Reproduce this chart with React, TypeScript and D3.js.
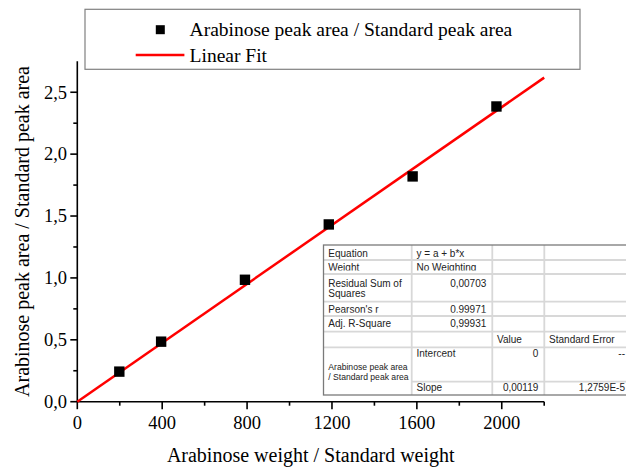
import React from "react";
import * as d3 from "d3";

const xValues = [198, 395, 790, 1185, 1580, 1975];
const yValues = [0.243, 0.485, 0.985, 1.432, 1.82, 2.385];
const fitIntercept = 0;
const fitSlope = 0.00119;
const fitRange = [0, 2200];
const xMajorTicks = [0, 400, 800, 1200, 1600, 2000];
const xMinorTicks = [200, 600, 1000, 1400, 1800, 2200];
const yMajorTicks = [0, 0.5, 1.0, 1.5, 2.0, 2.5];
const yMinorTicks = [0.25, 0.75, 1.25, 1.75, 2.25];
const seriesName = "Arabinose peak area / Standard peak area";
const fitName = "Linear Fit";
const xTitle = "Arabinose weight / Standard weight";
const yTitle = "Arabinose peak area / Standard peak area";

// table content
const tableRows = [
  ["Equation", "y = a + b*x", "", ""],
  ["Weight", "No Weighting", "", ""],
  ["Residual Sum of\nSquares", "0,00703", "", ""],
  ["Pearson's r", "0,99971", "", ""],
  ["Adj. R-Square", "0,99931", "", ""],
  ["", "", "Value", "Standard Error"],
  ["", "Intercept", "0", "--"],
  ["", "Slope", "0,00119", "1,2759E-5"],
];
const tableGroupLabel = ["Arabinose peak area", "/ Standard peak area"];

const serif = "'Liberation Serif', 'Times New Roman', serif";
const sans = "'Liberation Sans', Arial, sans-serif";

export default function App() {
  const x = d3.scaleLinear().domain([0, 2200]).range([77.3, 544.2]);
  const y = d3.scaleLinear().domain([0, 2.75]).range([401.7, 61.3]);
  const fmt = (v: number) => d3.format(".1f")(v).replace(".", ",");

  const line = d3
    .line<number>()
    .x((d) => x(d))
    .y((d) => y(fitIntercept + fitSlope * d));

  // table geometry
  const tX = [323.5, 411.7, 492.3, 544.3, 631];
  const tY = [245, 260, 274, 301.7, 316, 331.7, 347.3, 381.7, 395];
  const baseOff = [12.2, 10.8, 12.5, 11.5, 11, 11.2, 9.9, 8.8];
  const shortRow = [false, true, false, true, false, false, true, false];
  const rightAlign = (r: number, c: number) =>
    (c === 1 && (r === 2 || r === 3 || r === 4)) || (r >= 6 && c >= 2);

  return (
    <div>
      <style>{`body{margin:0}`}</style>
      <svg width={626} height={470} style={{ display: "block", background: "#fff" }}>
        <defs>
          {tableRows.map((_, r) => {
            const h = shortRow[r] ? baseOff[r] - 0.4 : tY[r + 1] - tY[r] - 1;
            return (
              <clipPath id={`row${r}`} key={r}>
                <rect x={tX[0]} y={tY[r] + 0.8} width={tX[4] - tX[0]} height={h - 0.8} />
              </clipPath>
            );
          })}
        </defs>

        {/* axes */}
        <line x1={x(0)} x2={x(2200)} y1={y(0)} y2={y(0)} stroke="#000" strokeWidth={1.6} />
        <line x1={x(0)} x2={x(0)} y1={y(0)} y2={y(2.75)} stroke="#000" strokeWidth={1.6} />
        {xMajorTicks.map((t) => (
          <g key={"xm" + t}>
            <line x1={x(t)} x2={x(t)} y1={y(0)} y2={y(0) + 7.5} stroke="#000" strokeWidth={1.6} />
            <text x={x(t)} y={429.3} textAnchor="middle" fontFamily={serif} fontSize={18.5} fill="#000">
              {t}
            </text>
          </g>
        ))}
        {xMinorTicks.map((t) => (
          <line key={"xn" + t} x1={x(t)} x2={x(t)} y1={y(0)} y2={y(0) + 4} stroke="#000" strokeWidth={1.6} />
        ))}
        {yMajorTicks.map((t) => (
          <g key={"ym" + t}>
            <line x1={x(0) - 7} x2={x(0)} y1={y(t)} y2={y(t)} stroke="#000" strokeWidth={1.6} />
            <text x={67} y={y(t)} dy="0.34em" textAnchor="end" fontFamily={serif} fontSize={18.5} fill="#000">
              {fmt(t)}
            </text>
          </g>
        ))}
        {yMinorTicks.map((t) => (
          <line key={"yn" + t} x1={x(0) - 4} x2={x(0)} y1={y(t)} y2={y(t)} stroke="#000" strokeWidth={1.6} />
        ))}

        {/* axis titles */}
        <text x={(x(0) + x(2200)) / 2} y={461.7} textAnchor="middle" fontFamily={serif} fontSize={20} fill="#000">
          {xTitle}
        </text>
        <text
          transform={`translate(28.5, ${(y(0) + y(2.75)) / 2}) rotate(-90)`}
          textAnchor="middle"
          fontFamily={serif}
          fontSize={20}
          fill="#000"
        >
          {yTitle}
        </text>

        {/* fit line */}
        <path d={line(fitRange) || ""} fill="none" stroke="#ff0000" strokeWidth={2.5} />

        {/* points */}
        {xValues.map((v, i) => (
          <rect key={i} x={x(v) - 5.2} y={y(yValues[i]) - 5.2} width={10.4} height={10.4} fill="#000" />
        ))}

        {/* legend */}
        <rect x={85} y={9.3} width={495} height={60} fill="#fff" stroke="#808080" strokeWidth={1.2} />
        <rect x={155.8} y={25.2} width={9} height={9} fill="#000" />
        <text x={189.6} y={36} fontFamily={serif} fontSize={19.5} fill="#000">
          {seriesName}
        </text>
        <line x1={135.7} x2={184.4} y1={55} y2={55} stroke="#ff0000" strokeWidth={2.5} />
        <text x={189.6} y={61.7} fontFamily={serif} fontSize={19.5} fill="#000">
          {fitName}
        </text>

        {/* table */}
        <rect x={tX[0]} y={tY[0]} width={tX[4] - tX[0]} height={tY[8] - tY[0]} fill="#fff" stroke="none" />
        {tY.slice(1, 8).map((yy, i) => (
          <line
            key={"h" + i}
            x1={i + 1 === 7 ? tX[1] : tX[0]}
            x2={tX[4]}
            y1={yy}
            y2={yy}
            stroke="#d8d8d8"
            strokeWidth={1.8}
          />
        ))}
        {tX.slice(1, 4).map((xx, i) => (
          <line key={"v" + i} x1={xx} x2={xx} y1={tY[0]} y2={tY[8]} stroke="#d8d8d8" strokeWidth={1.8} />
        ))}
        <rect
          x={tX[0]}
          y={tY[0]}
          width={tX[4] - tX[0]}
          height={tY[8] - tY[0]}
          fill="none"
          stroke="#7a7a7a"
          strokeWidth={1.3}
        />
        {tableRows.map((row, r) =>
          row.map((cell, c) => {
            if (!cell) return null;
            const lines = cell.split("\n");
            const right = rightAlign(r, c);
            const tx = right ? tX[c + 1] - 6 : tX[c] + 4.8;
            const clip = shortRow[r] && !(r === 6 && c > 1);
            return (
              <text
                key={`${r}-${c}`}
                x={tx}
                y={tY[r] + baseOff[r]}
                textAnchor={right ? "end" : "start"}
                fontFamily={sans}
                fontSize={10}
                fill="#222"
                clipPath={clip ? `url(#row${r})` : undefined}
              >
                {lines.map((l, k) => (
                  <tspan key={k} x={tx} dy={k === 0 ? 0 : 10.7}>
                    {l}
                  </tspan>
                ))}
              </text>
            );
          })
        )}
        {tableGroupLabel.map((l, k) => (
          <text key={"g" + k} x={tX[0] + 4.8} y={369.8 + k * 9.7} fontFamily={sans} fontSize={8.6} fill="#222">
            {l}
          </text>
        ))}
      </svg>
    </div>
  );
}
